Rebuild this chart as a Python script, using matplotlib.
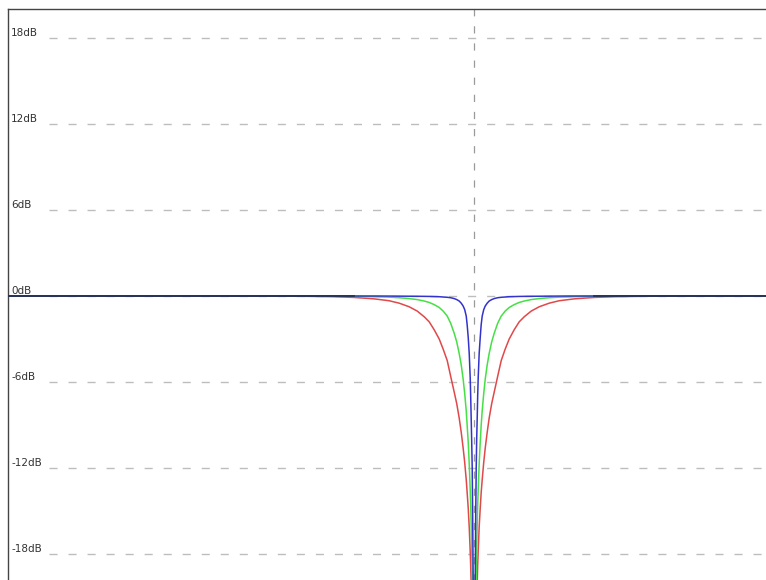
import numpy as np
import matplotlib
matplotlib.use("Agg")
import matplotlib.pyplot as plt
import matplotlib.transforms as mtransforms

# ==========================================================
# Data (notch responses, log freq axis)
# ==========================================================
center_hz = 1400
notch_floor_db = -60

freq_hz = [20, 226, 297, 391, 469, 563, 645, 707, 774, 833,
           888, 929, 972, 1018, 1055, 1095, 1130, 1167, 1194, 1221,
           1244, 1266, 1284, 1302, 1313, 1326, 1338, 1350, 1356, 1362,
           1368, 1375, 1381, 1387, 1394,
           1400,
           1406, 1413, 1419, 1426, 1432, 1439, 1445, 1452, 1465, 1479,
           1492, 1506, 1527, 1548, 1576, 1605, 1642, 1680, 1734, 1791,
           1857, 1926, 2016, 2110, 2208, 2354, 2532, 2773, 3038, 3483,
           4179, 5014, 6591, 8664, 20000]

# one side of each curve, from the notch outwards (curves are symmetric)
red_side = [-35, -29.5, -26, -23.5, -21.6, -20, -18.8, -17.8, -16.1, -14.8,
            -13.7, -12.8, -11.6, -10.6, -9.5, -8.5, -7.5, -6.7, -5.6, -4.5,
            -3.7, -3.0, -2.35, -1.8, -1.45, -1.05, -0.75, -0.5, -0.33, -0.2,
            -0.1, -0.05, -0.02, -0.01, 0]
green_side = [-31.4, -25.4, -21.9, -19.4, -17.5, -15.9, -14.6, -13.5, -11.7,
              -10.2, -9.0, -8.0, -6.8, -5.8, -4.8, -4.0, -3.2, -2.6, -1.9,
              -1.4, -1.05, -0.8, -0.6, -0.45, -0.35, -0.25, -0.18, -0.12,
              -0.08, -0.05, -0.03, -0.02, -0.01, 0, 0]
blue_side = [-26, -19.8, -15.5, -12, -10, -8.5, -7, -5.7, -4.0, -2.9,
             -2.0, -1.4, -0.95, -0.7, -0.5, -0.35, -0.25, -0.18, -0.12, -0.09,
             -0.07, -0.05, -0.04, -0.03, -0.025, -0.02, -0.015, -0.01, -0.005,
             0, 0, 0, 0, 0, 0]

grid_db = [18, 12, 6, 0, -6, -12, -18]
grid_labels = ["18dB", "12dB", "6dB", "0dB", "-6dB", "-12dB", "-18dB"]


def full_curve(side):
    return np.array(side[::-1] + [notch_floor_db] + side, dtype=float)


red_db = full_curve(red_side)
green_db = full_curve(green_side)
blue_db = full_curve(blue_side)
freq = np.array(freq_hz, dtype=float)

# ==========================================================
# Figure
# ==========================================================
W, H = 766, 580
fig = plt.figure(figsize=(W / 100, H / 100), dpi=100)
ax = fig.add_axes([8 / W, -3 / H, 758 / W, 574 / H])

ax.set_xscale("log")
ax.set_xlim(20, 20000)
ax.set_ylim(-20, 20)
ax.set_xticks([])
ax.set_yticks([])
ax.minorticks_off()
ax.tick_params(which="both", length=0)

for side in ["right", "bottom"]:
    ax.spines[side].set_visible(False)
for side in ["top", "left"]:
    ax.spines[side].set_color("#444444")
    ax.spines[side].set_linewidth(1.0)

dash = (0, (5.8, 7.9))
grid_color = "#bdbdbd"

trans = mtransforms.blended_transform_factory(ax.transAxes, ax.transData)
for lvl, lab in zip(grid_db, grid_labels):
    ax.axhline(lvl, xmin=41 / 758, xmax=1, color=grid_color,
               linewidth=1.0, linestyle=dash, zorder=1)
    ax.text(3 / 758, lvl, lab, transform=trans, ha="left", va="bottom",
            fontsize=7.5, color="#333333", zorder=5)

ax.axvline(center_hz, color="#9a9a9a", linewidth=0.9, linestyle=dash,
           zorder=1)

ax.plot(freq, red_db, color="#e0484a", linewidth=1.1, zorder=3)
ax.plot(freq, green_db, color="#45e045", linewidth=1.1, zorder=3)
ax.plot(freq, blue_db, color="#3333cc", linewidth=1.1, zorder=3)

# where all three curves sit flat on 0 dB they overlap into a dark line
all_db = np.vstack([red_db, green_db, blue_db])
flat = np.where(all_db.min(axis=0) > -0.12, 0.0, np.nan)
ax.plot(freq, flat, color="#27324f", linewidth=1.3, zorder=4)

fig.savefig("out.png", dpi=100)
